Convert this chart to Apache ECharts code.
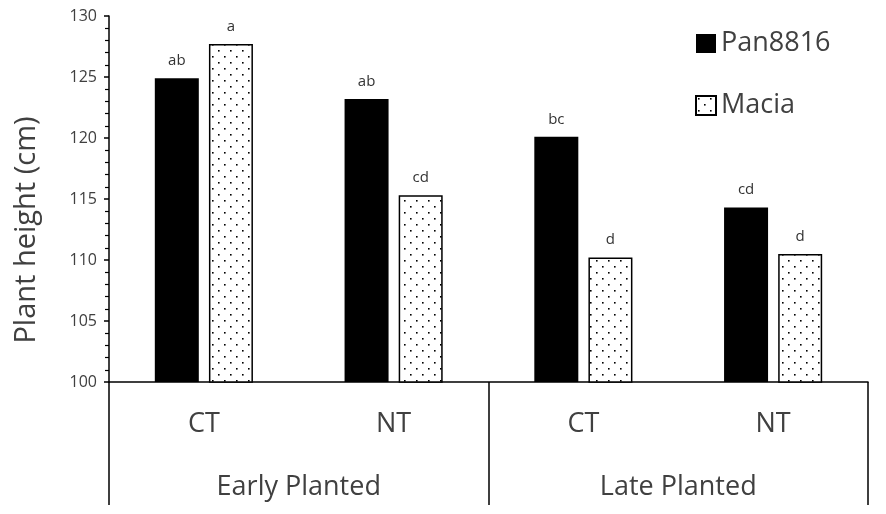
<!DOCTYPE html>
<html>
<head>
<meta charset="utf-8">
<script src="https://cdn.jsdelivr.net/npm/echarts@6/dist/echarts.min.js"></script>
<style>
  html, body { margin: 0; padding: 0; background: #fff; }
  #main { width: 886px; height: 514px; }
</style>
</head>
<body>
<div id="main"></div>
<script>
var treatments = ['CT', 'NT', 'CT', 'NT'];
var plantingDates = ['Early Planted', 'Late Planted'];
var pan8816 = [124.9, 123.2, 120.1, 114.3];
var macia = [127.7, 115.3, 110.2, 110.5];
var panLetters = ['ab', 'ab', 'bc', 'cd'];
var maciaLetters = ['a', 'cd', 'd', 'd'];

var textColor = '#404040';
var font = 'Open Sans';

// dotted fill for Macia
var dots = document.createElement('canvas');
dots.width = 12;
dots.height = 12;
var ctx = dots.getContext('2d');
ctx.fillStyle = '#fff';
ctx.fillRect(0, 0, 12, 12);
ctx.fillStyle = '#000';
ctx.fillRect(2, 2, 1.6, 1.6);
ctx.fillRect(8, 8, 1.6, 1.6);

var chart = echarts.init(document.getElementById('main'));

var letterLabel = function (letters) {
    return {
        show: true,
        position: 'top',
        distance: 10,
        fontFamily: font,
        fontSize: 15,
        color: '#333',
        formatter: function (p) { return letters[p.dataIndex]; }
    };
};

var option = {
    animation: false,
    backgroundColor: '#fff',
    grid: { left: 109, right: 18, top: 16, bottom: 132 },
    legend: {
        orient: 'vertical',
        left: 695,
        top: 30,
        padding: 0,
        icon: 'rect',
        itemWidth: 20,
        itemHeight: 19,
        itemGap: 35,
        textStyle: { fontFamily: font, fontSize: 27, color: textColor },
        data: ['Pan8816', 'Macia']
    },
    xAxis: [
        {
            type: 'category',
            data: treatments,
            axisLine: { lineStyle: { color: '#000', width: 1.5 } },
            axisTick: { show: false },
            axisLabel: { margin: 29, fontFamily: font, fontSize: 27, color: textColor }
        },
        {
            type: 'category',
            position: 'bottom',
            data: plantingDates,
            axisLine: { show: false },
            axisTick: { show: true, length: 123, lineStyle: { color: '#000', width: 1.5 } },
            axisLabel: { margin: 92, fontFamily: font, fontSize: 27, color: textColor }
        }
    ],
    yAxis: {
        type: 'value',
        min: 100,
        max: 130,
        interval: 5,
        splitLine: { show: false },
        axisLine: { show: true, lineStyle: { color: '#000', width: 1.5 } },
        axisTick: { show: true, length: 5, lineStyle: { color: '#000', width: 1.5 } },
        minorTick: { show: true, splitNumber: 5, length: 4, lineStyle: { color: '#000', width: 1.2 } },
        axisLabel: { margin: 12, fontFamily: font, fontSize: 16, color: textColor }
    },
    series: [
        {
            name: 'Pan8816',
            type: 'bar',
            barWidth: 44,
            barGap: '23%',
            data: pan8816,
            itemStyle: { color: '#000' },
            label: letterLabel(panLetters)
        },
        {
            name: 'Macia',
            type: 'bar',
            barWidth: 44,
            data: macia,
            itemStyle: {
                color: { image: dots, repeat: 'repeat' },
                borderColor: '#000',
                borderWidth: 1.5
            },
            label: letterLabel(maciaLetters)
        }
    ],
    graphic: [
        {
            type: 'text',
            x: 27,
            y: 230,
            rotation: Math.PI / 2,
            style: {
                text: 'Plant height (cm)',
                fontFamily: font,
                fontSize: 29,
                fill: textColor,
                align: 'center',
                verticalAlign: 'middle'
            }
        }
    ]
};

chart.setOption(option);
</script>
</body>
</html>
